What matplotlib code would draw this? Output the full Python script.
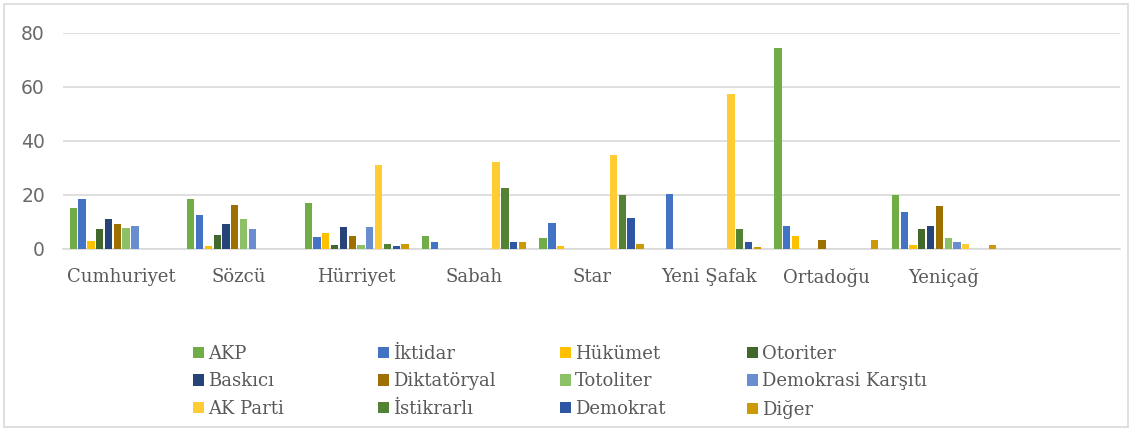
import matplotlib
matplotlib.use("Agg")
import matplotlib.pyplot as plt
from matplotlib.patches import Rectangle, Patch
import numpy as np

categories = ["Cumhuriyet", "Sözcü", "Hürriyet", "Sabah", "Star", "Yeni Şafak", "Ortadoğu", "Yeniçağ", ""]
series_names = ["AKP", "İktidar", "Hükümet", "Otoriter", "Baskıcı", "Diktatöryal",
                "Totoliter", "Demokrasi Karşıtı", "AK Parti", "İstikrarlı", "Demokrat", "Diğer"]

akp          = [15.2, 18.6, 17.0, 4.8, 4.1, 0, 74.4, 20.0, 0]
iktidar      = [18.5, 12.6, 4.6, 2.7, 9.7, 20.4, 8.5, 13.8, 0]
hukumet      = [2.8, 1.0, 5.9, 0, 1.1, 0, 4.8, 1.5, 0]
otoriter     = [7.4, 5.3, 1.6, 0, 0, 0, 0, 7.4, 0]
baskici      = [11.1, 9.4, 8.0, 0, 0, 0, 0, 8.5, 0]
diktatoryal  = [9.4, 16.4, 4.9, 0, 0, 0, 3.3, 16.0, 0]
totoliter    = [7.8, 11.2, 1.5, 0, 0, 0, 0, 4.1, 0]
demokrasi_k  = [8.5, 7.5, 8.3, 0, 0, 0, 0, 2.6, 0]
ak_parti     = [0, 0, 31.1, 32.2, 34.8, 57.4, 0, 1.9, 0]
istikrarli   = [0, 0, 1.9, 22.6, 20.0, 7.4, 0, 0, 0]
demokrat     = [0, 0, 1.2, 2.7, 11.6, 2.7, 0, 0, 0]
diger        = [0, 0, 1.9, 2.7, 1.9, 0.9, 3.3, 1.5, 0]

series_values = [akp, iktidar, hukumet, otoriter, baskici, diktatoryal,
                 totoliter, demokrasi_k, ak_parti, istikrarli, demokrat, diger]

colors = ["#70AD47", "#4472C4", "#FFC000", "#43682B", "#264478", "#9E7000",
          "#8CC168", "#698ED0", "#FFCD33", "#548235", "#2E56A3", "#CC9A06"]

W, H = 1133, 430
fig = plt.figure(figsize=(W / 100, H / 100), dpi=100)
fig.patch.set_facecolor("white")

left, right, top0, bot0 = 63, 1120, 33, 249
ax = fig.add_axes([left / W, 1 - bot0 / H, (right - left) / W, (bot0 - top0) / H])

n = len(series_names)
pitch = 0.075
width = 0.062
x = np.arange(len(categories))
for i, (name, vals, c) in enumerate(zip(series_names, series_values, colors)):
    ax.bar(x + (i - (n - 1) / 2) * pitch, vals, width=width, color=c, label=name, zorder=3)

ax.set_xlim(-0.5, len(categories) - 0.5)
ax.set_ylim(0, 80)
ax.set_yticks([0, 20, 40, 60, 80])
ax.yaxis.grid(True, color="#D9D9D9", linewidth=1.2, zorder=0)
ax.set_axisbelow(True)
for s in ["top", "right", "left"]:
    ax.spines[s].set_visible(False)
ax.spines["bottom"].set_color("#D9D9D9")
ax.spines["bottom"].set_linewidth(1.2)
ax.set_xticks(x)
ax.set_xticklabels(categories, fontfamily="DejaVu Serif", fontsize=13, color="#595959")
ax.tick_params(axis="x", length=0, pad=14)
ax.tick_params(axis="y", length=0, pad=13, labelsize=13.5, labelcolor="#6A6A6A")
for lab in ax.get_yticklabels():
    lab.set_fontfamily("DejaVu Sans")

# legend: 4 columns placed at the reference positions
col_x = [193, 378, 560, 747]
for j in range(4):
    idx = [j, j + 4, j + 8]
    handles = [Patch(facecolor=colors[k], edgecolor="none") for k in idx]
    labels = [series_names[k] for k in idx]
    fig.legend(handles, labels, loc="upper left",
               bbox_to_anchor=(col_x[j] / W, 1 - 345 / H),
               frameon=False, ncol=1, prop={"family": "DejaVu Serif", "size": 13},
               labelcolor="#595959", handlelength=0.6, handleheight=0.6,
               handletextpad=0.25, labelspacing=0.52, borderpad=0, borderaxespad=0)

fig.add_artist(Rectangle((4 / W, 3 / H), (W - 9) / W, (H - 7) / H, transform=fig.transFigure,
                         fill=False, edgecolor="#D9D9D9", linewidth=1.2))

fig.savefig("out.png", dpi=100)
